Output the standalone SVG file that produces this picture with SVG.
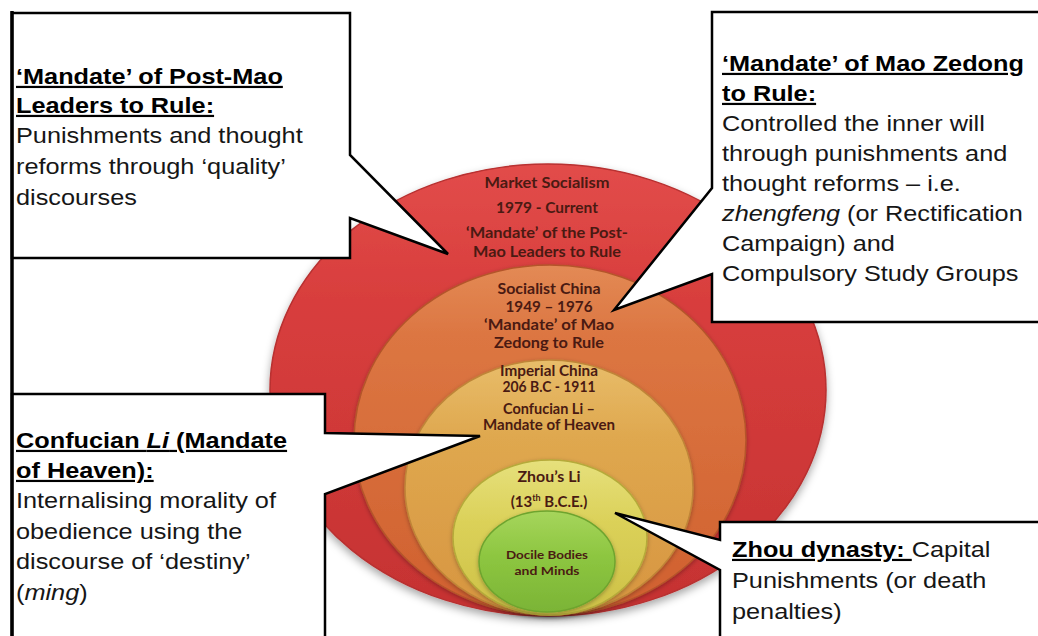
<svg xmlns="http://www.w3.org/2000/svg" width="1038" height="636" viewBox="0 0 1038 636">
<style>
  .box{fill:#fff;stroke:#000;stroke-width:2.5;stroke-linejoin:miter}
  .bt{font-family:"Liberation Sans",Arial,sans-serif;font-size:22px;fill:#161616}
  .h{font-weight:bold;text-decoration:underline;fill:#000}
  .lab{font-family:Lato,"Open Sans",sans-serif;font-weight:bold;font-size:15px;fill:#4a1a12;text-anchor:middle}
  .sm{font-size:11.5px}
  .ring{stroke-width:1.5}
</style>
<defs>
  <linearGradient id="gRed" x1="0" y1="0" x2="0" y2="1">
    <stop offset="0" stop-color="#e24c4a"/><stop offset="0.3" stop-color="#d83e3d"/><stop offset="1" stop-color="#c53232"/>
  </linearGradient>
  <linearGradient id="gOr" x1="0" y1="0" x2="0" y2="1">
    <stop offset="0" stop-color="#e38a55"/><stop offset="0.2" stop-color="#dc7642"/><stop offset="1" stop-color="#d0602f"/>
  </linearGradient>
  <linearGradient id="gGold" x1="0" y1="0" x2="0" y2="1">
    <stop offset="0" stop-color="#e8bd6a"/><stop offset="0.3" stop-color="#dfa84f"/><stop offset="1" stop-color="#d79540"/>
  </linearGradient>
  <linearGradient id="gYel" x1="0" y1="0" x2="0" y2="1">
    <stop offset="0" stop-color="#e6e07c"/><stop offset="0.4" stop-color="#dbd159"/><stop offset="1" stop-color="#cdc046"/>
  </linearGradient>
  <linearGradient id="gGr" x1="0" y1="0" x2="0" y2="1">
    <stop offset="0" stop-color="#a6d55c"/><stop offset="0.45" stop-color="#8dc640"/><stop offset="1" stop-color="#7bb436"/>
  </linearGradient>
  <filter id="sh" x="-10%" y="-10%" width="120%" height="125%">
    <feDropShadow dx="0" dy="4" stdDeviation="4" flood-color="#000" flood-opacity="0.35"/>
  </filter>
  <filter id="sh2" x="-10%" y="-10%" width="120%" height="125%">
    <feDropShadow dx="0" dy="1.5" stdDeviation="2" flood-color="#000" flood-opacity="0.3"/>
  </filter>
</defs>
<rect width="1038" height="636" fill="#fff"/>

<g id="ring-market-socialism">
  <ellipse class="ring" cx="548" cy="390" rx="278" ry="226" fill="url(#gRed)" stroke="#b83030" filter="url(#sh)"/>
  <text class="lab" x="547" y="188" textLength="125" lengthAdjust="spacingAndGlyphs">Market Socialism</text>
  <text class="lab" x="547" y="213" textLength="102" lengthAdjust="spacingAndGlyphs">1979 - Current</text>
  <text class="lab" x="547" y="238" textLength="162" lengthAdjust="spacingAndGlyphs">‘Mandate’ of the Post-</text>
  <text class="lab" x="547" y="257" textLength="148" lengthAdjust="spacingAndGlyphs">Mao Leaders to Rule</text>
</g>
<g id="ring-socialist-china">
  <ellipse class="ring" cx="550" cy="440" rx="196" ry="175" fill="url(#gOr)" stroke="#b4552a" filter="url(#sh2)"/>
  <text class="lab" x="549" y="294" textLength="103" lengthAdjust="spacingAndGlyphs">Socialist China</text>
  <text class="lab" x="549" y="312" textLength="87" lengthAdjust="spacingAndGlyphs">1949 – 1976</text>
  <text class="lab" x="549" y="330" textLength="130" lengthAdjust="spacingAndGlyphs">‘Mandate’ of Mao</text>
  <text class="lab" x="549" y="348" textLength="110" lengthAdjust="spacingAndGlyphs">Zedong to Rule</text>
</g>
<g id="ring-imperial-china">
  <ellipse class="ring" cx="549" cy="487.5" rx="144" ry="127.5" fill="url(#gGold)" stroke="#bf8538" filter="url(#sh2)"/>
  <text class="lab" x="549" y="376" textLength="98" lengthAdjust="spacingAndGlyphs">Imperial China</text>
  <text class="lab" x="549" y="392" textLength="93" lengthAdjust="spacingAndGlyphs">206 B.C - 1911</text>
  <text class="lab" x="549" y="414" textLength="92" lengthAdjust="spacingAndGlyphs">Confucian Li –</text>
  <text class="lab" x="549" y="430" textLength="132" lengthAdjust="spacingAndGlyphs">Mandate of Heaven</text>
</g>
<g id="ring-zhou-li">
  <ellipse class="ring" cx="550" cy="537.5" rx="97" ry="77.5" fill="url(#gYel)" stroke="#b5aa3a" filter="url(#sh2)"/>
  <text class="lab" x="549" y="482" textLength="63" lengthAdjust="spacingAndGlyphs">Zhou’s Li</text>
  <text class="lab" x="549" y="507">(13<tspan font-size="9" dy="-6">th</tspan><tspan dy="6"> B.C.E.)</tspan></text>
</g>
<g id="ring-docile-bodies">
  <ellipse class="ring" cx="547" cy="561.5" rx="68" ry="50.5" fill="url(#gGr)" stroke="#6ea42f" filter="url(#sh2)"/>
  <text class="lab sm" x="547" y="559" textLength="82" lengthAdjust="spacingAndGlyphs">Docile Bodies</text>
  <text class="lab sm" x="547" y="575" textLength="65" lengthAdjust="spacingAndGlyphs">and Minds</text>
</g>

<g id="callout-post-mao">
  <path class="box" d="M12,13 H350 V155 L448,254 L350,218 V258 H12 Z"/>
  <g class="bt" transform="translate(16 0) scale(1.15 1)">
    <text class="h" x="0" y="84">‘Mandate’ of Post-Mao</text>
    <text class="h" x="0" y="113">Leaders to Rule:</text>
    <text x="0" y="143">Punishments and thought</text>
    <text x="0" y="174">reforms through ‘quality’</text>
    <text x="0" y="205">discourses</text>
  </g>
</g>
<g id="callout-mao-zedong">
  <path class="box" d="M1045,12 H712 V188 L614,310 L712,274 V322 H1045 Z"/>
  <g class="bt" transform="translate(722 0) scale(1.15 1)">
    <text class="h" x="0" y="71">‘Mandate’ of Mao Zedong</text>
    <text class="h" x="0" y="101">to Rule:</text>
    <text x="0" y="131">Controlled the inner will</text>
    <text x="0" y="161">through punishments and</text>
    <text x="0" y="191">thought reforms – i.e.</text>
    <text x="0" y="221"><tspan font-style="italic">zhengfeng</tspan> (or Rectification</text>
    <text x="0" y="251">Campaign) and</text>
    <text x="0" y="281">Compulsory Study Groups</text>
  </g>
</g>
<g id="callout-confucian-li">
  <path class="box" d="M12,394 H325 V433 L480,436 L325,494 V645 H12 Z"/>
  <g class="bt" transform="translate(16 0) scale(1.15 1)">
    <text class="h" x="0" y="448">Confucian <tspan font-style="italic">Li</tspan> (Mandate</text>
    <text class="h" x="0" y="478">of Heaven):</text>
    <text x="0" y="508">Internalising morality of</text>
    <text x="0" y="539">obedience using the</text>
    <text x="0" y="569">discourse of ‘destiny’</text>
    <text x="0" y="600">(<tspan font-style="italic">ming</tspan>)</text>
  </g>
</g>
<g id="callout-zhou-dynasty">
  <path class="box" d="M720,522 H1045 V645 H720 V570 L615,513 L720,540 Z"/>
  <g class="bt" transform="translate(732 0) scale(1.15 1)">
    <text x="0" y="557"><tspan class="h" style="white-space:pre">Zhou dynasty: </tspan>Capital</text>
    <text x="0" y="588">Punishments (or death</text>
    <text x="0" y="619">penalties)</text>
  </g>
</g>
<g id="frame">
  <line x1="12" y1="11" x2="12" y2="636" stroke="#000" stroke-width="3.5"/>
</g>
</svg>
